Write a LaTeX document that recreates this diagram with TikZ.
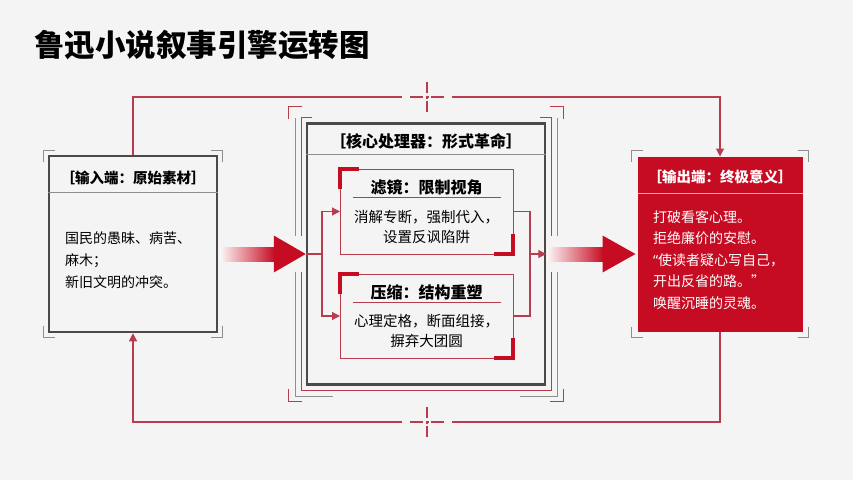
\documentclass[tikz,border=0pt]{standalone}
\usepackage{fontspec}
\setmainfont{Noto Sans CJK SC}
\newfontfamily\qfont{Noto Sans}
\usepackage{tikz}
\usetikzlibrary{arrows.meta,positioning}

\definecolor{bgc}{HTML}{F4F4F4}
\definecolor{lured}{HTML}{C60C22}
\definecolor{thinred}{HTML}{B73C4E}
\definecolor{boxgray}{HTML}{4A4A4A}
\definecolor{softgray}{HTML}{8E8E8E}

\newcommand{\hdfont}{\fontsize{14.5pt}{16pt}\selectfont\bfseries}
\newcommand{\bodyfont}{\fontsize{14pt}{22pt}\selectfont}

% corner brackets round a node: node, x offset, y offset, arm, colour
\newcommand{\brk}[5]{%
\draw[line width=1.4pt,#5] ([shift={(-#2,-#3+#4)}]#1.north west) -- ++(0,-#4) -- ++(#4,0);
\draw[line width=1.4pt,#5] ([shift={(#2-#4,-#3)}]#1.north east) -- ++(#4,0) -- ++(0,#4);
\draw[line width=1.4pt,#5] ([shift={(-#2,#3-#4)}]#1.south west) -- ++(0,#4) -- ++(#4,0);
\draw[line width=1.4pt,#5] ([shift={(#2-#4,#3)}]#1.south east) -- ++(#4,0) -- ++(0,-#4);}

% dashed cross on a loop line
\newcommand{\xhair}[1]{%
\draw[thinred,line width=1.1pt] ([shift={(-17,0)}]#1) -- ([shift={(-4,0)}]#1) ([shift={(4,0)}]#1) -- ([shift={(17,0)}]#1)
 ([shift={(0,-15)}]#1) -- ([shift={(0,-4)}]#1) ([shift={(0,4)}]#1) -- ([shift={(0,15)}]#1)
 ([shift={(-1.5,0)}]#1) -- ([shift={(1.5,0)}]#1) ([shift={(0,-1.5)}]#1) -- ([shift={(0,1.5)}]#1);}

\begin{document}
\begin{tikzpicture}[x=1pt,y=-1pt,>={Triangle[length=8pt,width=8pt]},
 box/.style={draw=boxgray,line width=2.5pt,minimum width=168pt,minimum height=176pt},
 lens/.style={draw=thinred,line width=1pt,minimum width=173pt,outer sep=0pt},
 lbl/.style={inner sep=0pt},
 flow/.style={thinred,line width=1.2pt},
 loopline/.style={thinred,line width=1.1pt},
 corner/.style={lured,line width=4pt,line join=miter},
 lenstitle/.style={lbl,font=\fontsize{16pt}{16pt}\selectfont\bfseries},
 lensbody/.style={lbl,align=center,font=\fontsize{14.5pt}{20pt}\selectfont}]
\useasboundingbox (0,0) rectangle (853,480);
\fill[bgc] (0,0) rectangle (853,480);
\node[lbl,anchor=west,font=\fontsize{30.5pt}{30pt}\selectfont\bfseries] (title) at (34,45) {鲁迅小说叙事引擎运转图};

% input
\node[box] (in) at (133,244) {};
\node[lbl,font=\hdfont] (inhead) at (133,178) {［输入端：原始素材］};
\draw[softgray,line width=1pt] ([shift={(0,38)}]in.north west) -- ([shift={(0,38)}]in.north east);
\node[lbl,anchor=west,align=left,font=\bodyfont] (intext) at (65,260) {国民的愚昧、病苦、\\麻木；\\新旧文明的冲突。};
\brk{in}{4}{4}{11}{softgray}

% core
\node[box,minimum width=238pt,minimum height=261pt] (core) at (426,254) {};
\node[lbl,font=\fontsize{16pt}{16pt}\selectfont\bfseries] (corehead) at (426,141) {［核心处理器：形式革命］};
\draw[softgray,line width=1pt] ([shift={(0,32)}]core.north west) -- ([shift={(0,32)}]core.north east);
\draw[thinred,line width=1.1pt] ([shift={(6,-5)}]core.north west) -- ([shift={(-4,-5)}]core.north west) -- ([shift={(-4,-18)}]core.west)
 ([shift={(-4,18)}]core.west) -- ([shift={(-4,5)}]core.south west) -- ([shift={(5,5)}]core.south east) -- ([shift={(5,18)}]core.east)
 ([shift={(5,-18)}]core.east) -- ([shift={(5,-5)}]core.north east) -- ([shift={(-6,-5)}]core.north east);
\draw[softgray,line width=1.1pt] ([shift={(-10,-4)}]core.north west) -- ([shift={(-10,-18)}]core.west)
 ([shift={(-10,18)}]core.west) -- ([shift={(-10,11)}]core.south west) -- ([shift={(27,11)}]core.south west);
\draw[softgray,line width=1.1pt] ([shift={(11,-4)}]core.north east) -- ([shift={(11,-18)}]core.east)
 ([shift={(11,18)}]core.east) -- ([shift={(11,11)}]core.south east) -- ([shift={(-26,11)}]core.south east);
\brk{core}{17}{16}{13}{thinred}

% lenses
\node[lens,minimum height=85pt] (f1) at (426.5,211.5) {};
\node[lenstitle] (f1t) at ([shift={(0,18)}]f1.north) {滤镜：限制视角};
\draw[thinred,line width=1pt] ([shift={(13,28)}]f1.north west) -- ([shift={(-12,28)}]f1.north east);
\node[lensbody] (f1b) at ([shift={(0,57.5)}]f1.north) {消解专断，强制代入，\\设置反讽陷阱};
\draw[corner] ([shift={(0,20)}]f1.north west) -- (f1.north west) -- ([shift={(19,0)}]f1.north west);
\draw[corner] ([shift={(0,-20)}]f1.south east) -- (f1.south east) -- ([shift={(-19,0)}]f1.south east);

\node[lens,minimum height=84pt] (f2) at (426.5,316) {};
\node[lenstitle] (f2t) at ([shift={(0,18)}]f2.north) {压缩：结构重塑};
\draw[thinred,line width=1pt] ([shift={(13,28)}]f2.north west) -- ([shift={(-12,28)}]f2.north east);
\node[lensbody] (f2b) at ([shift={(0,57)}]f2.north) {心理定格，断面组接，\\摒弃大团圆};
\draw[corner] ([shift={(0,20)}]f2.north west) -- (f2.north west) -- ([shift={(19,0)}]f2.north west);
\draw[corner] ([shift={(0,-20)}]f2.south east) -- (f2.south east) -- ([shift={(-19,0)}]f2.south east);

\coordinate (jl) at (322,254);
\coordinate (jr) at (530,254);
\draw[flow] (core.west) -- (jl);
\draw[flow,->] (jl) |- (f1.west);
\draw[flow,->] (jl) |- (f2.west);
\draw[flow] (f1.east) -| (jr);
\draw[flow] (f2.east) -| (jr);
\draw[flow,->] (jr) -- (core.east);

% output
\node[draw=lured,fill=lured,line width=1pt,minimum width=164pt,minimum height=174pt] (out) at (720,244) {};
\node[lbl,text=white,font=\hdfont] (outhead) at (720,177) {［输出端：终极意义］};
\draw[white!65!lured,line width=1pt] ([shift={(0,36.5)}]out.north west) -- ([shift={(0,36.5)}]out.north east);
\node[lbl,anchor=west,align=left,text=white,font=\fontsize{14pt}{21.5pt}\selectfont] (outtext) at (653,260) {打破看客心理。\\拒绝廉价的安慰。\\{\qfont “}使读者疑心写自己，\\开出反省的路。”\\唤醒沉睡的灵魂。};
\brk{out}{6}{6}{11}{softgray}

% big arrows
\coordinate (a1s) at (in.east |- core.west);
\shade[left color=lured!4,middle color=lured!85,right color=lured] ([shift={(2,-7)}]a1s) rectangle ([shift={(-31,7)}]core.west);
\fill[lured] ([shift={(-32,-18.5)}]core.west) -- (core.west) -- ([shift={(-32,18.5)}]core.west) -- cycle;
\coordinate (a2e) at (out.west |- core.east);
\shade[left color=lured!4,middle color=lured!85,right color=lured] ([shift={(1,-7)}]core.east) rectangle ([shift={(-34,7)}]a2e);
\fill[lured] ([shift={(-35,-18.5)}]a2e) -- ([shift={(-2,0)}]a2e) -- ([shift={(-35,18.5)}]a2e) -- cycle;

% loops
\coordinate (ctop) at (427,97);
\coordinate (cbot) at (427,422);
\draw[loopline] (in.north) |- ([shift={(-25,0)}]ctop);
\draw[loopline,->] ([shift={(25,0)}]ctop) -| (out.north);
\draw[loopline] (out.south) |- ([shift={(25,0)}]cbot);
\draw[loopline,->] ([shift={(-25,0)}]cbot) -| (in.south);
\xhair{ctop}
\xhair{cbot}
\end{tikzpicture}
\end{document}
